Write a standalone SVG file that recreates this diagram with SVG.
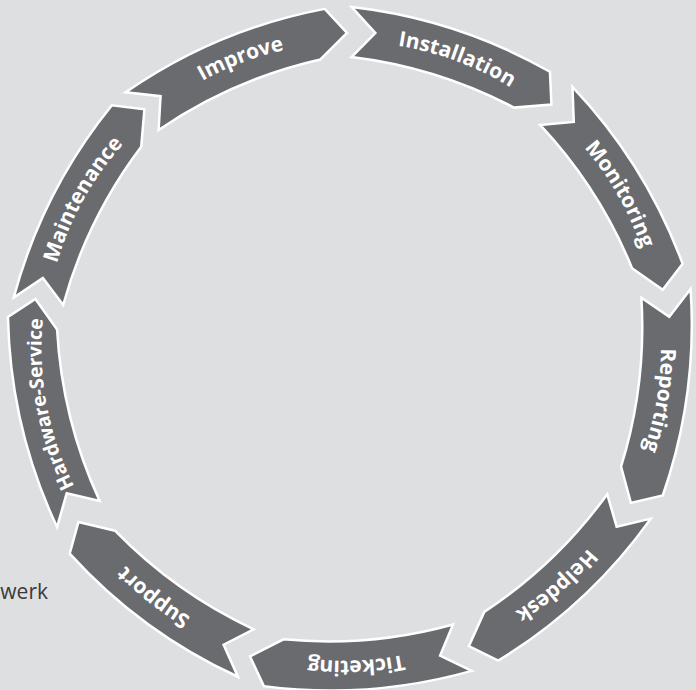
<svg xmlns="http://www.w3.org/2000/svg" width="696" height="690" viewBox="0 0 696 690">
<style>
.bg{fill:#dedfe1}
.seg{fill:#6a6b6f;stroke:#ffffff;stroke-width:2.5;stroke-linejoin:miter}
.lbl{font-family:"Open Sans","Noto Sans","DejaVu Sans",sans-serif;font-weight:700;font-size:21px;fill:#ffffff;text-anchor:middle}
.lbl.sm{font-size:19.5px}
.side{font-family:"Open Sans","Noto Sans","DejaVu Sans",sans-serif;font-size:21px;fill:#3a3a3a;text-anchor:end}
</style>
<defs>
<path id="seg" d="M 351.79,7.00 A 520 520 0 0 1 549.95,71.78 L 551.43,104.52 L 513.99,107.60 A 470 470 0 0 0 351.52,57.00 L 375.34,33.02 Z"/>
<path id="segL" d="M 344.05,7.05 A 520 520 0 0 1 549.95,71.78 L 551.43,104.52 L 513.99,107.60 A 470 470 0 0 0 344.92,57.04 L 368.19,32.52 Z"/>
<path id="tp" d="M 350,42 A 306 306 0 1 1 350,654 A 306 306 0 1 1 350,42 A 306 306 0 1 1 350,654 A 306 306 0 1 1 350,42"/>
</defs>
<rect class="bg" x="0" y="0" width="696" height="690"/>
<text class="side" x="48" y="599">werk</text>
<g id="installation"><use href="#seg" class="seg"/><text class="lbl"><textPath href="#tp" startOffset="108.5">Installation</textPath></text></g>
<g id="monitoring" transform="translate(1.9 -1.1)"><use href="#seg" class="seg" transform="rotate(40 350 348)"/><text class="lbl"><textPath href="#tp" startOffset="322">Monitoring</textPath></text></g>
<g id="reporting" transform="translate(4.9 0.9) rotate(-0.44 350 348)"><use href="#seg" class="seg" transform="rotate(80 350 348)"/><text class="lbl"><textPath href="#tp" startOffset="534.1">Reporting</textPath></text></g>
<g id="helpdesk" transform="translate(3.3 4.0) rotate(-1.05 350 348)"><use href="#seg" class="seg" transform="rotate(120 350 348)"/><text class="lbl"><textPath href="#tp" startOffset="747.7">Helpdesk</textPath></text></g>
<g id="ticketing" transform="translate(0 6.5) rotate(-1.21 350 348) rotate(-1.1 350 663)"><use href="#seg" class="seg" transform="rotate(160 350 348)"/><text class="lbl"><textPath href="#tp" startOffset="961.3">Ticketing</textPath></text></g>
<g id="support" transform="translate(-4.4 5.2) rotate(-1.89 350 348)"><use href="#seg" class="seg" transform="rotate(200 350 348)"/><text class="lbl"><textPath href="#tp" startOffset="1175.0">Support</textPath></text></g>
<g id="hardware-service" transform="translate(-2.5 0.4) rotate(-0.6 350 348)"><use href="#segL" class="seg" transform="rotate(240 350 348)"/><text class="lbl sm"><textPath href="#tp" startOffset="1388">Hardware-Service</textPath></text></g>
<g id="maintenance" transform="translate(0.9 0.5) rotate(-0.4 350 348)"><use href="#segL" class="seg" transform="rotate(280 350 348)"/><text class="lbl"><textPath href="#tp" startOffset="1598.7">Maintenance</textPath></text></g>
<g id="improve" transform="translate(0.3 0.9) rotate(-0.2 350 348)"><use href="#segL" class="seg" transform="rotate(320 350 348)"/><text class="lbl"><textPath href="#tp" startOffset="1812.4">Improve</textPath></text></g>
</svg>
